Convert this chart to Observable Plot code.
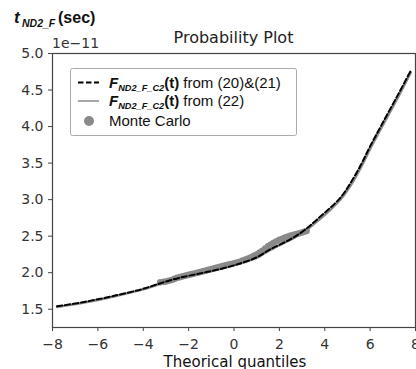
<!DOCTYPE html>
<html>
<head>
<meta charset="utf-8">
<script src="https://cdn.jsdelivr.net/npm/d3@7"></script>
<script src="https://cdn.jsdelivr.net/npm/@observablehq/plot@0.6"></script>
<style>
  html, body { margin: 0; padding: 0; background: #fff; }
  #chart { width: 416px; height: 369px; overflow: hidden; }
</style>
</head>
<body>
<div id="chart"></div>
<script>
// ---- data (values in units of 1e-11 sec) ----
const quantiles = [-7.8, -6.6, -5.2, -4.0, -3.2, -2.4, -1.5, -0.6, 0.3, 1.0, 1.6, 2.5, 3.1, 3.7, 4.25, 4.7, 5.1, 5.6, 6.0, 6.5, 7.2, 7.8];
const fEq2021 = [1.54, 1.60, 1.69, 1.78, 1.86, 1.93, 1.99, 2.05, 2.13, 2.21, 2.32, 2.46, 2.58, 2.74, 2.89, 3.03, 3.21, 3.48, 3.73, 4.02, 4.42, 4.77];
const fEq22   = [1.53, 1.59, 1.68, 1.77, 1.85, 1.92, 1.98, 2.05, 2.13, 2.20, 2.31, 2.45, 2.56, 2.71, 2.86, 3.00, 3.17, 3.44, 3.69, 3.98, 4.38, 4.74];

const mcQuantiles = [-3.25, -3.1, -3.0, -2.875, -2.75, -2.625, -2.5, -2.375, -2.25, -2.125, -2.0, -1.875, -1.75, -1.625, -1.5, -1.375, -1.25, -1.125, -1.0, -0.875, -0.75, -0.625, -0.5, -0.375, -0.25, -0.125, 0.0, 0.125, 0.25, 0.375, 0.5, 0.625, 0.75, 0.875, 1.0, 1.125, 1.25, 1.375, 1.5, 1.625, 1.75, 1.875, 2.0, 2.125, 2.25, 2.375, 2.5, 2.625, 2.75, 2.875, 3.0, 3.1, 3.2];
const mcTimes     = [1.87, 1.875, 1.88, 1.89, 1.90, 1.915, 1.93, 1.94, 1.95, 1.96, 1.97, 1.98, 1.99, 2.00, 2.01, 2.02, 2.03, 2.04, 2.05, 2.06, 2.07, 2.08, 2.09, 2.10, 2.11, 2.12, 2.13, 2.14, 2.15, 2.165, 2.18, 2.195, 2.21, 2.23, 2.25, 2.275, 2.30, 2.33, 2.36, 2.385, 2.41, 2.43, 2.45, 2.465, 2.48, 2.495, 2.51, 2.52, 2.53, 2.54, 2.55, 2.56, 2.57];

const xTicks = [-8, -6, -4, -2, 0, 2, 4, 6, 8];
const yTicks = [1.5, 2.0, 2.5, 3.0, 3.5, 4.0, 4.5, 5.0];

const titleText = "Probability Plot";
const xLabelText = "Theorical quantiles";
const offsetText = "1e\u221211";
const legendLabels = [
  {sub: "ND2_F_C2", rest: " from (20)&(21)"},
  {sub: "ND2_F_C2", rest: " from (22)"},
  {plain: "Monte Carlo"}
];

const lineA = quantiles.map((q, i) => ({q, t: fEq2021[i]}));
const lineB = quantiles.map((q, i) => ({q, t: fEq22[i]}));
const mc = mcQuantiles.map((q, i) => ({q, t: mcTimes[i]}));

const fmtX = d => d < 0 ? "\u2212" + Math.abs(d) : String(d);

const svg = Plot.plot({
  width: 416,
  height: 369,
  marginLeft: 52,
  marginRight: 1,
  marginTop: 53,
  marginBottom: 42,
  style: {fontFamily: "DejaVu Sans", fontSize: "14px", color: "#333", background: "#fff"},
  x: {domain: [-8, 8]},
  y: {domain: [1.25, 5.0]},
  marks: [
    Plot.axisX({ticks: xTicks, tickSize: 4, tickPadding: 8, tickFormat: fmtX, label: null, stroke: "#444"}),
    Plot.axisY({ticks: yTicks, tickSize: 4, tickPadding: 5, tickFormat: d => d.toFixed(1), label: null, stroke: "#444"}),
    Plot.dot(mc, {x: "q", y: "t", r: 3.3, fill: "#8a8a8a", stroke: "none"}),
    Plot.line(lineB, {x: "q", y: "t", stroke: "#8a8a8a", strokeWidth: 2.2, curve: "catmull-rom"}),
    Plot.line(lineA, {x: "q", y: "t", stroke: "#000", strokeWidth: 2, strokeDasharray: "5.5,2.5", curve: "catmull-rom"}),
    Plot.frame({stroke: "#444", strokeWidth: 1.2})
  ]
});
document.getElementById("chart").appendChild(svg);

const s = d3.select(svg);
const sans = "Liberation Sans, Arial, sans-serif";

// Title
s.append("text").attr("x", 233.5).attr("y", 43).attr("text-anchor", "middle")
  .attr("font-family", "DejaVu Sans").attr("font-size", 16).attr("fill", "#222").text(titleText);
// Offset text
s.append("text").attr("x", 52).attr("y", 48).attr("text-anchor", "start")
  .attr("font-family", "DejaVu Sans").attr("font-size", 14).attr("fill", "#333").text(offsetText);
// X label
s.append("text").attr("x", 235).attr("y", 367).attr("text-anchor", "middle")
  .attr("font-family", "DejaVu Sans").attr("font-size", 15).attr("fill", "#111").text(xLabelText);

// Y label t_ND2_F (sec)
const yl = s.append("text").attr("y", 23).attr("text-anchor", "start").attr("font-family", sans)
  .attr("font-weight", "bold").attr("fill", "#111");
yl.append("tspan").attr("x", 14).attr("font-size", 17).attr("font-style", "italic").text("t");
yl.append("tspan").attr("x", 22).attr("dy", 4).attr("font-size", 10.5).attr("font-style", "italic").text("ND2_F");
yl.append("tspan").attr("x", 58).attr("dy", -4).attr("font-size", 16).text("(sec)");

// Legend
const lg = s.append("g").attr("text-anchor", "start");
lg.append("rect").attr("x", 70.5).attr("y", 68.5).attr("width", 226).attr("height", 67)
  .attr("rx", 2).attr("fill", "#fff").attr("stroke", "#aaa").attr("stroke-width", 1);
lg.append("line").attr("x1", 78).attr("x2", 99).attr("y1", 82.5).attr("y2", 82.5)
  .attr("stroke", "#000").attr("stroke-width", 2).attr("stroke-dasharray", "5.5,2.5");
lg.append("line").attr("x1", 78).attr("x2", 99).attr("y1", 101).attr("y2", 101)
  .attr("stroke", "#8a8a8a").attr("stroke-width", 1.5);
lg.append("circle").attr("cx", 89).attr("cy", 121).attr("r", 5).attr("fill", "#8a8a8a");
const baselines = [87.5, 106, 126];
legendLabels.forEach((d, i) => {
  const t = lg.append("text").attr("x", 109).attr("y", baselines[i]).attr("text-anchor", "start")
    .attr("font-family", sans).attr("font-size", 15).attr("fill", "#111");
  if (d.plain) { t.text(d.plain); return; }
  t.append("tspan").attr("font-weight", "bold").attr("font-style", "italic").text("F");
  t.append("tspan").attr("font-weight", "bold").attr("font-style", "italic").attr("font-size", 9.2).attr("dy", 3).text(d.sub);
  t.append("tspan").attr("font-weight", "bold").attr("dy", -3).text("(t)");
  t.append("tspan").text(d.rest);
});
</script>
</body>
</html>
